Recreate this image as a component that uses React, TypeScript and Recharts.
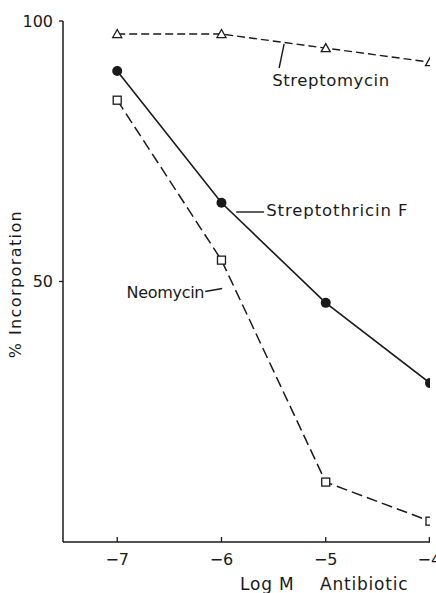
import { LineChart, Line, XAxis, YAxis, ReferenceLine, ReferenceDot } from 'recharts'

// Log M antibiotic concentration
const logDose = [-7, -6, -5, -4]

// % incorporation per antibiotic
const streptomycin = [97.5, 97.5, 94.8, 92.1]
const streptothricinF = [90.4, 65.1, 45.9, 30.5]
const neomycin = [84.8, 54.1, 11.5, 4.0]

const xTicks = [-7, -6, -5, -4]
const yTicks = [50, 100]

const FONT = '"DejaVu Sans", sans-serif'
const INK = '#1a1a1a'

const data = logDose.map((x, i) => ({
  x,
  streptomycin: streptomycin[i],
  streptothricinF: streptothricinF[i],
  neomycin: neomycin[i],
}))

const TriangleDot = (props: any) => {
  const { cx, cy } = props
  if (cx == null || cy == null) return null
  return (
    <path
      d={`M${cx},${cy - 4.5} L${cx + 4.5},${cy + 3.5} L${cx - 4.5},${cy + 3.5} Z`}
      fill="#fff"
      stroke={INK}
      strokeWidth={1.3}
    />
  )
}

const CircleDot = (props: any) => {
  const { cx, cy } = props
  if (cx == null || cy == null) return null
  return <circle cx={cx} cy={cy} r={5} fill={INK} stroke="none" />
}

const SquareDot = (props: any) => {
  const { cx, cy } = props
  if (cx == null || cy == null) return null
  return <rect x={cx - 4} y={cy - 4} width={8} height={8} fill="#fff" stroke={INK} strokeWidth={1.3} />
}

// x ticks point inward (upwards) from the axis
const XTick = (props: any) => {
  const { x, y, payload } = props
  return (
    <g>
      <line x1={x} y1={y} x2={x} y2={y - 5} stroke={INK} strokeWidth={1.3} />
      <text x={x} y={y + 23} textAnchor="middle" fontSize={16} fontFamily={FONT} fill={INK}>
        {payload.value === 0 ? '0' : `\u2212${Math.abs(payload.value)}`}
      </text>
    </g>
  )
}

const annotation = (text: string, anchor: 'start' | 'end', size = 16.5, spacing = 0.6) => (props: any) => (
  <text
    x={props.cx}
    y={props.cy}
    dy="0.35em"
    textAnchor={anchor}
    fontSize={size}
    fontFamily={FONT}
    fill={INK}
    letterSpacing={spacing}
  >
    {text}
  </text>
)

export default function App() {
  return (
    <div style={{ position: 'absolute', left: 0, top: 0, background: '#fff' }}>
      <LineChart width={436} height={593} data={data} margin={{ top: 21, right: 6, left: 0, bottom: 0 }}>
        <XAxis
          dataKey="x"
          type="number"
          domain={[-7.52, -4]}
          ticks={xTicks}
          allowDataOverflow
          height={51}
          tickSize={0}
          tickMargin={0}
          tickLine={false}
          tick={<XTick />}
          axisLine={{ stroke: INK, strokeWidth: 1.5 }}
          label={{
            content: () => (
              <g fontSize={17} fontFamily={FONT} fill={INK} letterSpacing={0.8}>
                <text x={240} y={590}>Log M</text>
                <text x={320} y={590}>Antibiotic</text>
              </g>
            ),
          }}
        />
        <YAxis
          type="number"
          domain={[0, 100]}
          ticks={yTicks}
          width={63}
          tickSize={4}
          tickMargin={6}
          tickLine={{ stroke: INK, strokeWidth: 1.3 }}
          axisLine={{ stroke: INK, strokeWidth: 1.5 }}
          tick={{ fontSize: 16, fontFamily: FONT, fill: INK }}
          label={{
            content: () => (
              <text
                x={15}
                y={284}
                transform="rotate(-90 15 284)"
                textAnchor="middle"
                dominantBaseline="central"
                fontSize={16}
                fontFamily={FONT}
                fill={INK}
                letterSpacing={1.4}
              >
                % Incorporation
              </text>
            ),
          }}
        />

        <Line
          dataKey="streptomycin"
          stroke={INK}
          strokeWidth={1.4}
          strokeDasharray="8 4"
          dot={<TriangleDot />}
          activeDot={false}
          isAnimationActive={false}
        />
        <Line
          dataKey="streptothricinF"
          stroke={INK}
          strokeWidth={1.6}
          dot={<CircleDot />}
          activeDot={false}
          isAnimationActive={false}
        />
        <Line
          dataKey="neomycin"
          stroke={INK}
          strokeWidth={1.5}
          strokeDasharray="11 5"
          dot={<SquareDot />}
          activeDot={false}
          isAnimationActive={false}
        />

        {/* leader lines */}
        <ReferenceLine segment={[{ x: -5.447, y: 90.98 }, { x: -5.399, y: 95.6 }]} stroke={INK} strokeWidth={1.4} />
        <ReferenceLine segment={[{ x: -5.859, y: 63.34 }, { x: -5.591, y: 63.34 }]} stroke={INK} strokeWidth={1.4} />
        <ReferenceLine segment={[{ x: -6.156, y: 48.08 }, { x: -5.993, y: 48.65 }]} stroke={INK} strokeWidth={1.4} />

        {/* series labels */}
        <ReferenceDot x={-5.514} y={88.7} r={0} shape={annotation('Streptomycin', 'start')} />
        <ReferenceDot x={-5.571} y={63.7} r={0} shape={annotation('Streptothricin F', 'start', 16.5, 0.9)} />
        <ReferenceDot x={-6.166} y={47.98} r={0} shape={annotation('Neomycin', 'end', 16, -0.3)} />
      </LineChart>
    </div>
  )
}
